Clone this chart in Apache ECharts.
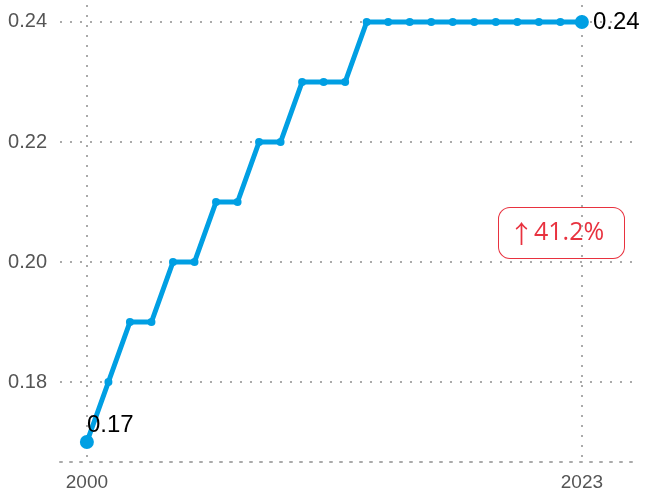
<!DOCTYPE html>
<html>
<head>
<meta charset="utf-8">
<script src="https://cdn.jsdelivr.net/npm/echarts@6/dist/echarts.min.js"></script>
<style>
  html, body { margin: 0; padding: 0; background: #fff; }
  #chart { width: 647px; height: 496px; }
</style>
</head>
<body>
<div id="chart"></div>
<script>
  // years and values
  var years = [2000, 2001, 2002, 2003, 2004, 2005, 2006, 2007, 2008, 2009, 2010, 2011,
    2012, 2013, 2014, 2015, 2016, 2017, 2018, 2019, 2020, 2021, 2022, 2023];
  var values = [0.17, 0.18, 0.19, 0.19, 0.20, 0.20, 0.21, 0.21, 0.22, 0.22, 0.23, 0.23,
    0.23, 0.24, 0.24, 0.24, 0.24, 0.24, 0.24, 0.24, 0.24, 0.24, 0.24, 0.24];
  var xTicks = [2000, 2023];
  var yTicks = [0.18, 0.20, 0.22, 0.24];
  var changeArrow = '↑';
  var changeText = '41.2%';

  var chart = echarts.init(document.getElementById('chart'));

  var last = values.length - 1;
  var seriesData = years.map(function (y, i) {
    var item = { value: [y, values[i]] };
    if (i === 0) {
      item.symbolSize = 14;
      item.label = { show: true, position: 'top', align: 'left', offset: [0, 7] };
    } else if (i === last) {
      item.symbolSize = 14;
      item.label = { show: true, position: 'right', distance: 4 };
    }
    return item;
  });

  var dotted = { color: '#aaa', width: 2, type: [2, 8] };

  var option = {
    animation: false,
    grid: { left: 60, right: 7, top: 5, bottom: 34 },
    xAxis: {
      type: 'value',
      min: 1998.75,
      max: 2025.7,
      axisLine: { show: true, lineStyle: dotted },
      axisTick: { show: false, customValues: xTicks },
      axisLabel: {
        customValues: xTicks,
        color: '#555',
        fontSize: 19,
        margin: 11,
        formatter: function (v) { return String(v); },
        fontFamily: 'Liberation Sans, Arial, sans-serif'
      },
      splitLine: { show: true, lineStyle: dotted }
    },
    yAxis: {
      type: 'value',
      min: 0.16667,
      max: 0.24283,
      axisLine: { show: false },
      axisTick: { show: false, customValues: yTicks },
      axisLabel: {
        customValues: yTicks,
        color: '#555',
        fontSize: 20,
        margin: 13,
        formatter: function (v) { return v.toFixed(2); },
        fontFamily: 'Liberation Sans, Arial, sans-serif'
      },
      splitLine: { show: true, lineStyle: dotted }
    },
    series: [{
      type: 'line',
      data: seriesData,
      symbol: 'circle',
      symbolSize: 8,
      color: '#009fe3',
      lineStyle: { width: 5, color: '#009fe3' },
      label: {
        show: false,
        color: '#000',
        fontSize: 24,
        fontFamily: 'Liberation Sans, Arial, sans-serif',
        formatter: function (p) { return p.value[1].toFixed(2); }
      }
    }],
    graphic: [{
      type: 'text',
      left: 498,
      top: 207,
      style: {
        text: '{a|' + changeArrow + '}{b|' + changeText + '}',
        backgroundColor: '#fff',
        borderColor: '#e8323f',
        borderWidth: 1,
        borderRadius: 11,
        width: 105,
        height: 50,
        align: 'center',
        verticalAlign: 'middle',
        padding: [0, 10],
        rich: {
          a: {
            fill: '#e8323f',
            fontSize: 25,
            fontFamily: 'Noto Sans CJK SC, sans-serif',
            lineHeight: 50
          },
          b: {
            fill: '#e8323f',
            fontSize: 25,
            fontFamily: 'Open Sans, sans-serif',
            lineHeight: 50
          }
        }
      }
    }]
  };

  chart.setOption(option);
</script>
</body>
</html>
